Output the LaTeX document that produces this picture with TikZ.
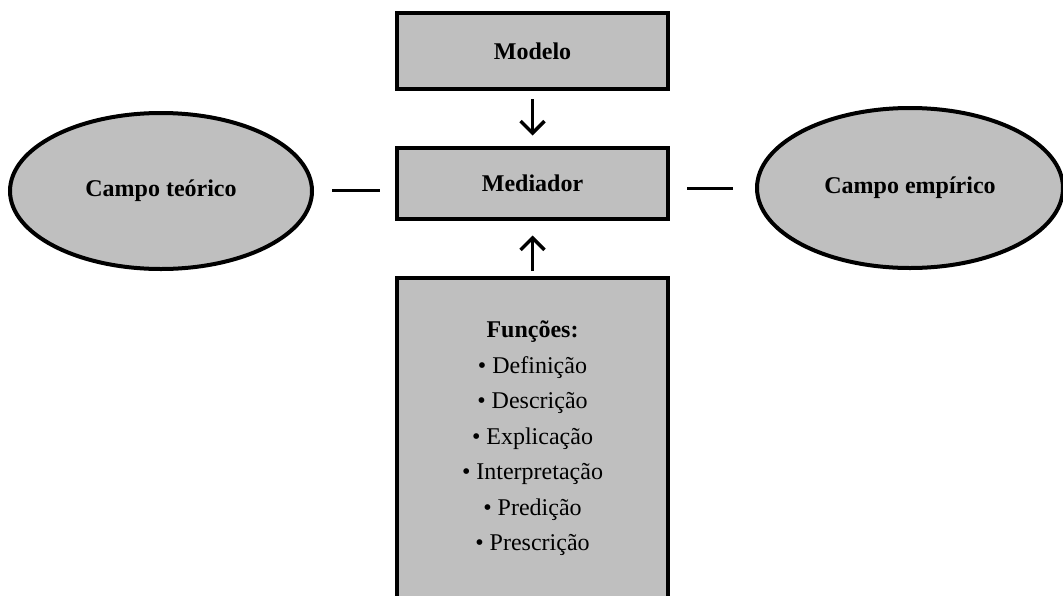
\documentclass[tikz,border=0pt]{standalone}
\usepackage{fontspec}
\setmainfont{Liberation Serif}
\usetikzlibrary{arrows.meta,shapes.geometric}
\definecolor{boxgray}{gray}{0.75}
\tikzset{
  panel/.style={draw=black, line width=4pt, fill=boxgray, rectangle, inner sep=0pt},
  field/.style={draw=black, line width=4pt, fill=boxgray, ellipse, inner sep=0pt},
  title/.style={font=\fontsize{24}{28}\selectfont\bfseries},
  link/.style={line width=3pt},
  feed/.style={line width=3.5pt, -{Straight Barb[length=12pt,width=24pt,line width=3.5pt]}}
}
\begin{document}
\begin{tikzpicture}[x=1pt,y=-1pt]
  \useasboundingbox (0,0) rectangle (1063,595);
  \clip (0,0) rectangle (1063,595);
  % central column
  \node[panel, minimum width=271pt, minimum height=76pt, title] (modelo) at (532.5,51) {Modelo};
  \node[panel, minimum width=271pt, minimum height=71pt, title] (mediador) at (532.5,183) {Mediador};
  \node[panel, minimum width=271pt, minimum height=342pt] (funcoes) at (532.5,449) {};
  \node[align=center, anchor=north, inner sep=0pt,
        font=\fontsize{24}{35.5}\selectfont] (lista) at (532.5,321)
    {{\bfseries Funções:}\\
     • Definição\\ • Descrição\\ • Explicação\\ • Interpretação\\ • Predição\\ • Prescrição};
  % the two fields
  \node[field, minimum width=302pt, minimum height=156pt, title] (teorico) at (161,191) {Campo teórico};
  \node[field, minimum width=306pt, minimum height=160pt, title] (empirico) at (910,188) {Campo empírico};
  % connectors
  \coordinate (la) at (332,190);
  \coordinate (lb) at (380,190);
  \coordinate (ra) at (687,188);
  \coordinate (rb) at (733,188);
  \draw[link] (la) -- (lb);
  \draw[link] (ra) -- (rb);
  \draw[feed] ([yshift=-8pt]modelo.south) -- ([yshift=10pt]mediador.north);
  \draw[feed] ([yshift=5pt]funcoes.north) -- ([yshift=-15pt]mediador.south);
\end{tikzpicture}
\end{document}
